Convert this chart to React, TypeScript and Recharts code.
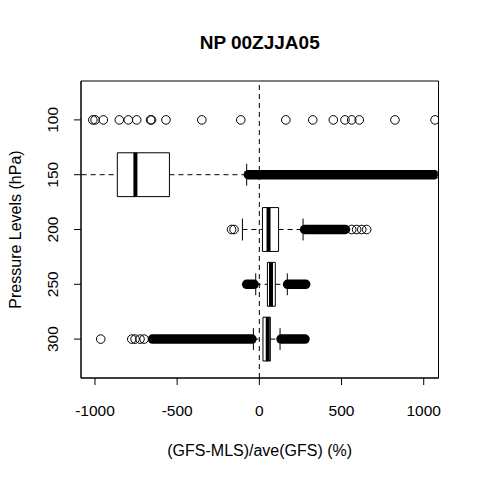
import { ScatterChart, Scatter, XAxis, YAxis, ReferenceLine, ReferenceArea } from 'recharts';

// pressure levels (hPa), top to bottom
const LEVELS = [100, 150, 200, 250, 300];

// box statistics per level, % difference (null = no box drawn)
const Q1 = [null, -864, 19, 49, 22];
const MEDIAN = [null, -754, 56, 71, 51];
const Q3 = [null, -547, 117, 97, 67];
const WHISKER_LO = [null, -1300, -103, -22, -36];
const WHISKER_HI = [null, -77, 266, 170, 126];

// single outliers that can be told apart
const OUTLIERS_100 = [-1013, -999, -949, -852, -797, -746, -662, -656, -568, -350, -113, 161, 325, 450, 521, 562, 608, 825, 1069];
const OUTLIERS_150 = [1066];
const OUTLIERS_200 = [-169, -154, 562, 592, 623, 653];
const OUTLIERS_250: number[] = [];
const OUTLIERS_300 = [-965, -776, -756, -726, -701];

// runs of outliers so dense they merge into a solid band
const DENSE_LEVEL = [150, 200, 250, 250, 300, 300];
const DENSE_FROM = [-67, 275, -77, 172, -650, 132];
const DENSE_TO = [1058, 524, -32, 282, -45, 278];

const X_TICKS = [-1000, -500, 0, 500, 1000];
const X_DOMAIN = [-1085, 1090];
const Y_DOMAIN = [64.5, 335.5];

const BOX_HALF = 20;
const CAP_HALF = 10;
const FONT = '"Liberation Sans", Arial, Helvetica, sans-serif';

const outlierData = [OUTLIERS_100, OUTLIERS_150, OUTLIERS_200, OUTLIERS_250, OUTLIERS_300].flatMap((vals, i) =>
  vals.map((v) => ({ x: v, y: LEVELS[i] }))
);

const OpenCircle = (props: any) => (
  <circle cx={props.cx} cy={props.cy} r={4.3} fill="none" stroke="#000" strokeWidth={1} />
);

const YTick = ({ x, y, payload }: any) => (
  <text x={x} y={y} transform={`rotate(-90, ${x}, ${y})`} textAnchor="middle" fontSize={15.5} fill="#000" fontFamily={FONT}>
    {payload.value}
  </text>
);

export default function App() {
  return (
    <div style={{ position: 'absolute', left: 0, top: 0, width: 480, height: 480, background: '#fff', fontFamily: FONT }}>
      <ScatterChart width={480} height={480} margin={{ top: 81, right: 41.5, bottom: 42, left: 21 }}>
        <XAxis
          type="number"
          dataKey="x"
          domain={X_DOMAIN}
          allowDataOverflow
          ticks={X_TICKS}
          height={60}
          tickSize={7}
          tickMargin={20}
          stroke="#000"
          tick={{ fill: '#000', fontSize: 15.5, fontFamily: FONT }}
        />
        <YAxis
          type="number"
          dataKey="y"
          domain={Y_DOMAIN}
          allowDataOverflow
          reversed
          ticks={LEVELS}
          width={60}
          tickSize={7}
          tickMargin={16}
          stroke="#000"
          tick={<YTick />}
        />

        {/* plot frame */}
        <ReferenceArea x1={X_DOMAIN[0]} x2={X_DOMAIN[1]} y1={Y_DOMAIN[0]} y2={Y_DOMAIN[1]} fill="none" stroke="#000" strokeWidth={1} />

        <ReferenceLine x={0} stroke="#000" strokeDasharray="5 4" />

        {LEVELS.map((lev, i) =>
          Q1[i] == null ? null : (
            <g key={`box-${lev}`}>
              <ReferenceLine segment={[{ x: WHISKER_LO[i], y: lev }, { x: Q1[i], y: lev }]} stroke="#000" strokeDasharray="5 4" ifOverflow="hidden" />
              <ReferenceLine segment={[{ x: Q3[i], y: lev }, { x: WHISKER_HI[i], y: lev }]} stroke="#000" strokeDasharray="5 4" ifOverflow="hidden" />
              <ReferenceLine segment={[{ x: WHISKER_LO[i], y: lev - CAP_HALF }, { x: WHISKER_LO[i], y: lev + CAP_HALF }]} stroke="#000" ifOverflow="hidden" />
              <ReferenceLine segment={[{ x: WHISKER_HI[i], y: lev - CAP_HALF }, { x: WHISKER_HI[i], y: lev + CAP_HALF }]} stroke="#000" ifOverflow="hidden" />
              <ReferenceArea x1={Q1[i]} x2={Q3[i]} y1={lev - BOX_HALF} y2={lev + BOX_HALF} fill="none" stroke="#000" strokeWidth={1} ifOverflow="hidden" />
              <ReferenceLine segment={[{ x: MEDIAN[i], y: lev - BOX_HALF }, { x: MEDIAN[i], y: lev + BOX_HALF }]} stroke="#000" strokeWidth={4} ifOverflow="hidden" />
            </g>
          )
        )}

        {DENSE_LEVEL.map((lev, i) => (
          <ReferenceLine
            key={`dense-${i}`}
            segment={[{ x: DENSE_FROM[i], y: lev }, { x: DENSE_TO[i], y: lev }]}
            stroke="#000"
            strokeWidth={9.5}
            strokeLinecap="round"
            ifOverflow="hidden"
          />
        ))}

        <Scatter data={outlierData} shape={OpenCircle} isAnimationActive={false} />
      </ScatterChart>

      <svg width={480} height={480} style={{ position: 'absolute', left: 0, top: 0, pointerEvents: 'none' }}>
        <text x={259.7} y={49} textAnchor="middle" fontSize={19} fontWeight="bold" fontFamily={FONT} fill="#000">
          NP 00ZJJA05
        </text>
        <text x={259.7} y={456} textAnchor="middle" fontSize={16} fontFamily={FONT} fill="#000">
          (GFS-MLS)/ave(GFS) (%)
        </text>
        <text x={20.5} y={229.5} transform="rotate(-90, 20.5, 229.5)" textAnchor="middle" fontSize={16} fontFamily={FONT} fill="#000">
          Pressure Levels (hPa)
        </text>
      </svg>
    </div>
  );
}
